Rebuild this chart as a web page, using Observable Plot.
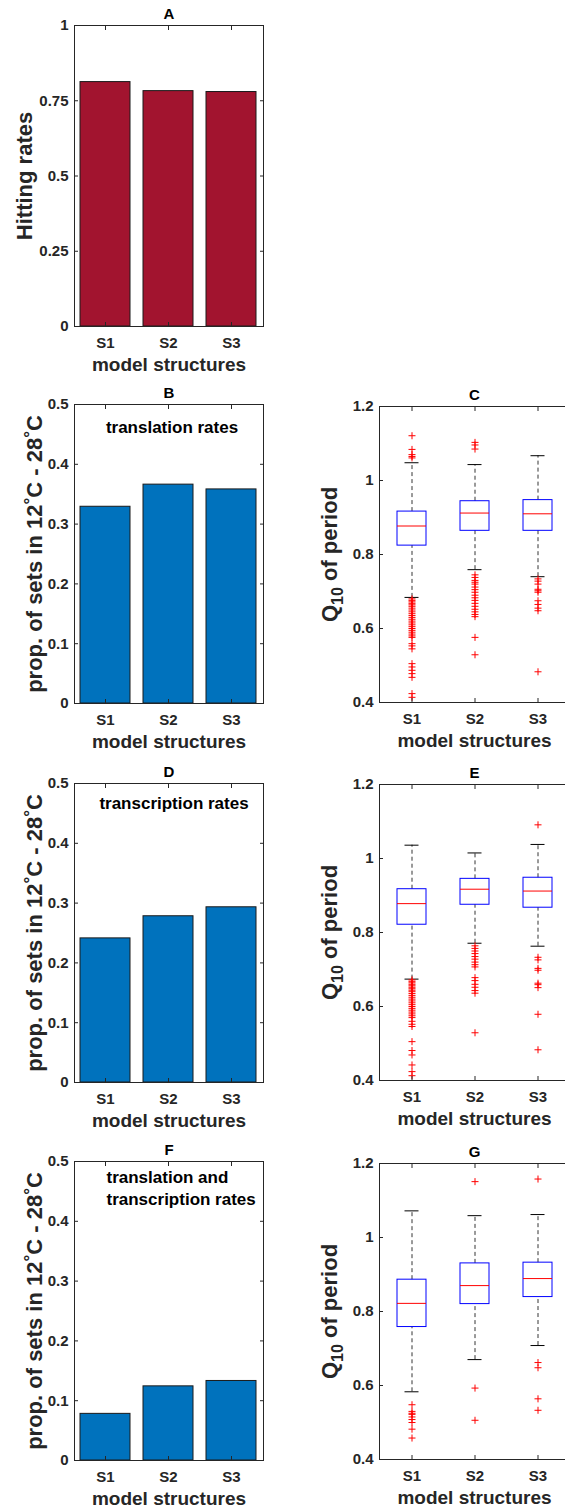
<!DOCTYPE html>
<html><head><meta charset="utf-8">
<script src="https://cdn.jsdelivr.net/npm/d3@7"></script>
<script src="https://cdn.jsdelivr.net/npm/@observablehq/plot@0.6"></script>
<style>
body{margin:0;background:#fff}
#fig{position:relative;width:565px;height:1510px;overflow:hidden;background:#fff}
#fig > svg{position:absolute}
</style></head><body><div id="fig"></div>
<script>
// ---------------- data ----------------
const structures = ["S1", "S2", "S3"];
const hittingRates = [0.812, 0.782, 0.779];
const propTranslation = [0.329, 0.366, 0.358];
const propTranscription = [0.241, 0.278, 0.293];
const propBoth = [0.078, 0.124, 0.133];

const ticksHitting = [0, 0.25, 0.5, 0.75, 1];
const ticksProp = [0, 0.1, 0.2, 0.3, 0.4, 0.5];
const ticksQ10 = [0.4, 0.6, 0.8, 1, 1.2];

// box statistics per structure: [lower whisker, Q1, median, Q3, upper whisker]
const q10Translation = [[0.684, 0.824, 0.877, 0.916, 1.048], [0.759, 0.864, 0.912, 0.944, 1.043], [0.740, 0.864, 0.910, 0.947, 1.067]];
const q10Transcription = [[0.674, 0.821, 0.878, 0.917, 1.036], [0.771, 0.875, 0.917, 0.945, 1.015], [0.763, 0.867, 0.912, 0.948, 1.038]];
const q10Both = [[0.583, 0.758, 0.822, 0.886, 1.072], [0.670, 0.820, 0.870, 0.930, 1.059], [0.708, 0.839, 0.889, 0.932, 1.062]];

const outTranslation = [
  [1.121, 1.084, 1.070, 1.065, 1.061, 0.680, 0.676, 0.672, 0.668, 0.664, 0.660, 0.655, 0.650, 0.645, 0.640, 0.635, 0.630, 0.625, 0.620, 0.615, 0.610, 0.605, 0.600, 0.595, 0.590, 0.585, 0.580, 0.576, 0.559, 0.553, 0.545, 0.505, 0.496, 0.487, 0.478, 0.468, 0.424, 0.414],
  [1.103, 1.096, 1.085, 0.745, 0.738, 0.730, 0.725, 0.720, 0.712, 0.705, 0.698, 0.690, 0.683, 0.676, 0.668, 0.660, 0.652, 0.645, 0.638, 0.632, 0.576, 0.529],
  [0.734, 0.728, 0.720, 0.706, 0.702, 0.698, 0.675, 0.665, 0.655, 0.648, 0.483]
];
const outTranscription = [
  [0.672, 0.668, 0.664, 0.660, 0.656, 0.652, 0.648, 0.644, 0.640, 0.635, 0.630, 0.625, 0.620, 0.615, 0.610, 0.605, 0.600, 0.595, 0.590, 0.585, 0.580, 0.575, 0.570, 0.560, 0.552, 0.546, 0.505, 0.481, 0.469, 0.442, 0.424, 0.413],
  [0.764, 0.757, 0.750, 0.743, 0.735, 0.728, 0.720, 0.713, 0.707, 0.678, 0.670, 0.660, 0.652, 0.643, 0.636, 0.529],
  [1.091, 0.733, 0.726, 0.703, 0.698, 0.663, 0.659, 0.651, 0.579, 0.483]
];
const outBoth = [
  [0.548, 0.530, 0.525, 0.522, 0.515, 0.508, 0.500, 0.482, 0.458],
  [1.151, 0.593, 0.506],
  [1.158, 0.662, 0.648, 0.564, 0.533]
];

// ---------------- styling ----------------
const FONT = "'Liberation Sans', Arial, Helvetica, sans-serif";
const AXIS = "#262626";
const fig = document.getElementById("fig");

function richText(svg, plain, parts) {
  d3.select(svg).selectAll("text").filter(function () { return this.textContent === plain; }).each(function () {
    const t = d3.select(this);
    t.text(null);
    let shift = 0;
    parts.forEach(p => {
      const ts = t.append("tspan").text(p.t);
      const target = p.dy || 0;
      if (target !== shift) ts.attr("dy", (target - shift) + "px");
      shift = target;
      if (p.size) ts.attr("font-size", p.size + "px");
    });
  });
}

function panel({col, top, bottom, title, yDomain, yTicks, yLabel, labelX, band, marks, parts}) {
  const left = col === 0 ? 0 : 282;
  const width = col === 0 ? 282 : 288;
  const marginLeft = col === 0 ? 74 : 97;
  const marginRight = col === 0 ? 19 : 1;
  const mt = 36, mb = 52;
  const svgTop = top - mt;
  const height = bottom - svgTop + mb;
  const chart = Plot.plot({
    width, height, marginTop: mt, marginBottom: mb, marginLeft, marginRight,
    style: {fontFamily: FONT, fontWeight: "bold", fontSize: "15px", color: AXIS, background: "transparent", overflow: "visible"},
    x: {type: "band", domain: structures, paddingInner: band[0], paddingOuter: band[1], label: null},
    y: {domain: yDomain, label: null},
    marks: [
      ...marks,
      Plot.frame({stroke: AXIS, strokeWidth: 1}),
      Plot.axisY({ticks: yTicks, tickSize: -4, tickPadding: 10, tickFormat: d3.format("~g"), label: null}),
      Plot.axisY({anchor: "right", ticks: yTicks, tickSize: -4, tickFormat: () => "", label: null}),
      Plot.axisX({tickSize: -4, tickPadding: 15, label: null}),
      Plot.axisX({anchor: "top", tickSize: -4, tickFormat: () => "", label: null}),
      Plot.text([title], {text: d => d, frameAnchor: "top", dy: -7, lineAnchor: "bottom", fill: "#000", fontSize: 15}),
      Plot.text(["model structures"], {text: d => d, frameAnchor: "bottom", dy: 44, lineAnchor: "bottom", fill: AXIS, fontSize: 19}),
      Plot.text([yLabel], {text: d => d, frameAnchor: "left", dx: labelX - marginLeft, rotate: -90, textAnchor: "middle", lineAnchor: "bottom", fill: AXIS, fontSize: 22})
    ]
  });
  chart.style.left = left + "px";
  chart.style.top = svgTop + "px";
  fig.appendChild(chart);
  if (parts) richText(chart, yLabel, parts);
  return chart;
}

function barMarks(values, fill, note) {
  const rows = structures.map((s, i) => ({s, v: values[i]}));
  const m = [Plot.barY(rows, {x: "s", y: "v", fill, stroke: "#1a1a1a", strokeWidth: 1})];
  if (note) m.push(Plot.text([note.text], {text: d => d, frameAnchor: note.anchor, dx: note.dx, dy: note.dy, textAnchor: note.textAnchor, lineAnchor: "top", lineHeight: 1.28, fill: "#000", fontSize: 17}));
  return m;
}

function boxMarks(stats, outliers) {
  const rows = structures.map((s, i) => ({s, lo: stats[i][0], q1: stats[i][1], med: stats[i][2], q3: stats[i][3], hi: stats[i][4]}));
  const out = structures.flatMap((s, i) => outliers[i].map(v => ({s, v})));
  const dash = {stroke: "#000", strokeWidth: 0.8, strokeDasharray: "4,3"};
  return [
    Plot.ruleX(rows, {x: "s", y1: "q3", y2: "hi", ...dash}),
    Plot.ruleX(rows, {x: "s", y1: "lo", y2: "q1", ...dash}),
    Plot.tickY(rows, {x: "s", y: "hi", stroke: "#000", strokeWidth: 1, insetLeft: 24.5, insetRight: 24.5}),
    Plot.tickY(rows, {x: "s", y: "lo", stroke: "#000", strokeWidth: 1, insetLeft: 24.5, insetRight: 24.5}),
    Plot.barY(rows, {x: "s", y1: "q1", y2: "q3", fill: "none", stroke: "#0000ff", strokeWidth: 1, insetLeft: 17, insetRight: 17}),
    Plot.tickY(rows, {x: "s", y: "med", stroke: "#ff0000", strokeWidth: 1, insetLeft: 17, insetRight: 17}),
    Plot.dot(out, {x: "s", y: "v", symbol: "plus", r: 2.4, stroke: "#ff0000", strokeWidth: 1})
  ];
}

const propLabel = "prop. of sets in 12°C - 28°C";
const propParts = [{t: "prop. of sets in 12"}, {t: "°", dy: -6, size: 17}, {t: "C - 28"}, {t: "°", dy: -6, size: 17}, {t: "C"}];
const qLabel = "Q10 of period";
const qParts = [{t: "Q"}, {t: "10", dy: 6, size: 16}, {t: " of period"}];
const BAR_BAND = [0.2, 0.1];
const BOX_BAND = [0, 0];

panel({col: 0, top: 25, bottom: 326, title: "A", yDomain: [0, 1], yTicks: ticksHitting, yLabel: "Hitting rates", labelX: 31.5, band: BAR_BAND,
  marks: barMarks(hittingRates, "#A2142F")});
panel({col: 0, top: 404, bottom: 703, title: "B", yDomain: [0, 0.5], yTicks: ticksProp, yLabel: propLabel, labelX: 41.5, band: BAR_BAND, parts: propParts,
  marks: barMarks(propTranslation, "#0072BD", {text: "translation rates", anchor: "top", dx: 3, dy: 13, textAnchor: "middle"})});
panel({col: 0, top: 783, bottom: 1082, title: "D", yDomain: [0, 0.5], yTicks: ticksProp, yLabel: propLabel, labelX: 41.5, band: BAR_BAND, parts: propParts,
  marks: barMarks(propTranscription, "#0072BD", {text: "transcription rates", anchor: "top", dx: 5, dy: 10, textAnchor: "middle"})});
panel({col: 0, top: 1161, bottom: 1460, title: "F", yDomain: [0, 0.5], yTicks: ticksProp, yLabel: propLabel, labelX: 41.5, band: BAR_BAND, parts: propParts,
  marks: barMarks(propBoth, "#0072BD", {text: "translation and\ntranscription rates", anchor: "top-left", dx: 32, dy: 6, textAnchor: "start"})});

panel({col: 1, top: 406, bottom: 702, title: "C", yDomain: [0.4, 1.2], yTicks: ticksQ10, yLabel: qLabel, labelX: 54.5, band: BOX_BAND, parts: qParts,
  marks: boxMarks(q10Translation, outTranslation)});
panel({col: 1, top: 784, bottom: 1080, title: "E", yDomain: [0.4, 1.2], yTicks: ticksQ10, yLabel: qLabel, labelX: 54.5, band: BOX_BAND, parts: qParts,
  marks: boxMarks(q10Transcription, outTranscription)});
panel({col: 1, top: 1163, bottom: 1459, title: "G", yDomain: [0.4, 1.2], yTicks: ticksQ10, yLabel: qLabel, labelX: 54.5, band: BOX_BAND, parts: qParts,
  marks: boxMarks(q10Both, outBoth)});
</script></body></html>
